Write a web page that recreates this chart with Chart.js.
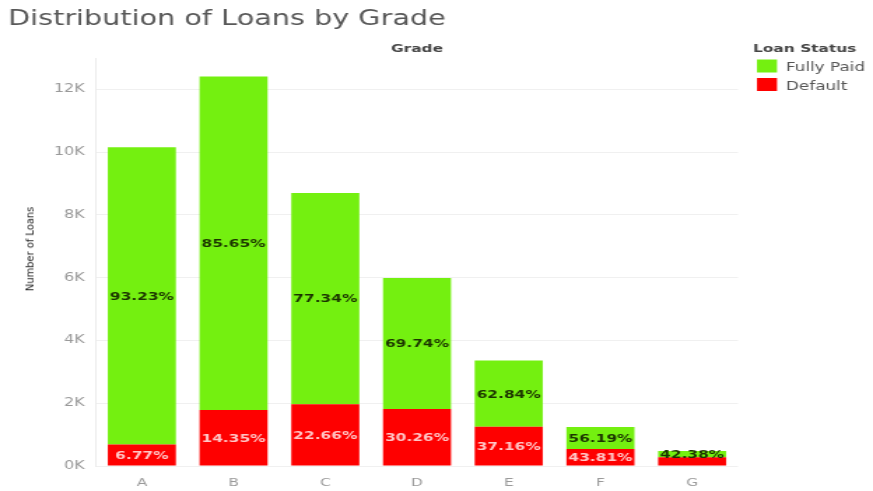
<!DOCTYPE html>
<html>
<head>
<meta charset="utf-8">
<title>Distribution of Loans by Grade</title>
<script src="https://cdn.jsdelivr.net/npm/chart.js@4.4.1/dist/chart.umd.min.js"></script>
<style>
  body { margin: 0; background: #fff; }
  #wrap { position: relative; width: 873px; height: 491px; overflow: hidden; }
  /* the chart is drawn narrow and widened, like the exported dashboard */
  #stretch { position: absolute; left: 0; top: 0; width: 624px; height: 491px;
             transform: scaleX(1.39904); transform-origin: 0 0; }
  #y-title { position: absolute; left: 30px; top: 249px; white-space: nowrap;
             transform: translate(-50%, -50%) rotate(-90deg);
             font: 11px 'Liberation Sans Narrow', 'DejaVu Sans Condensed', sans-serif; color: #222; }
</style>
</head>
<body>
<div id="wrap">
  <div id="stretch"><canvas id="grade-chart" width="624" height="491"></canvas></div>
  <div id="y-title">Number of Loans</div>
</div>
<script>
// ---------------- data ----------------
var grades = ['A', 'B', 'C', 'D', 'E', 'F', 'G'];
var totalLoans = [10160, 12410, 8700, 5990, 3360, 1240, 480];
var fullyPaidPct = [93.23, 85.65, 77.34, 69.74, 62.84, 56.19, 42.38];
var defaultPct = [6.77, 14.35, 22.66, 30.26, 37.16, 43.81, 57.62];
var yTicks = [0, 2000, 4000, 6000, 8000, 10000, 12000];

var GREEN = '#74f010';
var RED = '#fe0000';
var S = 873 / 624; // horizontal widening of the canvas

// loan counts per status, from each grade's total and its share
var fullyPaid = totalLoans.map(function (t, i) { return t * fullyPaidPct[i] / 100; });
var defaulted = totalLoans.map(function (t, i) { return t * defaultPct[i] / 100; });
var pctLabels = [defaultPct, fullyPaidPct];

// percentage inside each segment
var segmentLabels = {
  id: 'segmentLabels',
  afterDatasetsDraw: function (chart) {
    var ctx = chart.ctx;
    ctx.save();
    ctx.font = 'bold 11px "DejaVu Sans", sans-serif';
    ctx.textAlign = 'center';
    ctx.textBaseline = 'middle';
    chart.data.datasets.forEach(function (ds, i) {
      chart.getDatasetMeta(i).data.forEach(function (bar, j) {
        var h = bar.base - bar.y;
        if (i === 0 && h < 12) return; // too thin for a default label
        ctx.fillStyle = i === 0 ? 'rgba(255,255,255,0.78)' : '#1b3300';
        ctx.fillText(pctLabels[i][j].toFixed(2) + '%', bar.x, (bar.y + bar.base) / 2 + 1);
      });
    });
    ctx.restore();
  }
};

// title, column header and legend
var headers = {
  id: 'headers',
  afterDraw: function (chart) {
    var ctx = chart.ctx;
    ctx.save();
    ctx.textBaseline = 'alphabetic';
    ctx.fillStyle = '#585858';
    ctx.font = '20.5px "DejaVu Sans", sans-serif';
    ctx.fillText('Distribution of Loans by Grade', 8 / S, 25);

    ctx.fillStyle = '#444';
    ctx.font = 'bold 11px "DejaVu Sans", sans-serif';
    ctx.textAlign = 'center';
    ctx.fillText('Grade', 417 / S, 52);
    ctx.textAlign = 'left';
    ctx.fillText('Loan Status', 753 / S, 52);

    var items = [['Fully Paid', GREEN, 59.5], ['Default', RED, 78]];
    ctx.font = '12px "DejaVu Sans", sans-serif';
    items.forEach(function (it) {
      ctx.fillStyle = it[1];
      ctx.fillRect(757 / S, it[2], 20 / S, 13);
      ctx.fillStyle = '#555';
      ctx.fillText(it[0], 786 / S, it[2] + 11.5);
    });
    ctx.restore();
  }
};

var chart = new Chart(document.getElementById('grade-chart'), {
  type: 'bar',
  data: {
    labels: grades,
    datasets: [
      { label: 'Default', data: defaulted, backgroundColor: RED },
      { label: 'Fully Paid', data: fullyPaid, backgroundColor: GREEN }
    ]
  },
  options: {
    responsive: false,
    animation: false,
    layout: { padding: { left: 0, top: 58, right: 624 - 738 / S, bottom: 0 } },
    datasets: { bar: { categoryPercentage: 1, barPercentage: 0.742 } },
    plugins: { legend: { display: false }, tooltip: { enabled: false } },
    scales: {
      x: {
        stacked: true,
        grid: { display: false },
        border: { display: false },
        ticks: { color: '#9a9a9a', padding: 3, font: { family: 'DejaVu Sans', size: 11 } },
        afterFit: function (s) { s.height = 25; }
      },
      y: {
        stacked: true,
        min: 0,
        max: 13000,
        afterBuildTicks: function (s) {
          s.ticks = yTicks.map(function (v) { return { value: v }; });
        },
        grid: { color: '#f0f0f0', drawTicks: false },
        border: { color: '#ececec' },
        ticks: {
          color: '#9a9a9a', padding: 8,
          font: { family: 'DejaVu Sans', size: 11.5 },
          callback: function (v) { return (v / 1000) + 'K'; }
        },
        afterFit: function (s) { s.width = 96 / S; }
      }
    }
  },
  plugins: [segmentLabels, headers]
});
</script>
</body>
</html>
